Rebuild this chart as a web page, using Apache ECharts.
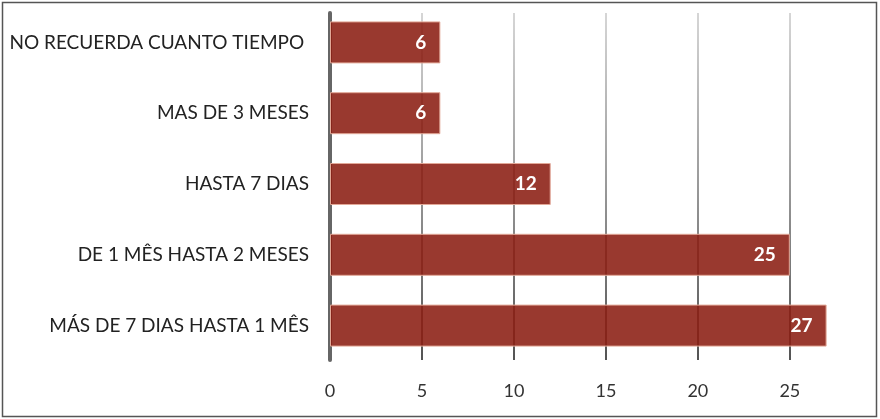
<!DOCTYPE html>
<html>
<head>
<meta charset="utf-8">
<script src="https://cdn.jsdelivr.net/npm/echarts@6/dist/echarts.min.js"></script>
<style>
  html, body { margin: 0; padding: 0; background: #fff; }
  #chart { width: 880px; height: 419px; }
</style>
</head>
<body>
<div id="chart"></div>
<script>
// Categories listed bottom-to-top (category axis starts at the bottom)
const categories = [
  'MÁS DE 7 DIAS HASTA 1 MÊS',
  'DE 1 MÊS HASTA 2 MESES',
  'HASTA 7 DIAS',
  'MAS DE 3 MESES',
  'NO RECUERDA CUANTO TIEMPO '
];
const values = [27, 25, 12, 6, 6];
const axisMin = 0;
const axisMax = 28;
const axisStep = 5;

const FONT = 'Lato, "Open Sans", "Liberation Sans", sans-serif';

const chart = echarts.init(document.getElementById('chart'), null, { renderer: 'canvas' });

// vertical gradient for the grid lines: light at top, dark at bottom
const gridLineColor = {
  type: 'linear', global: true,
  x: 0, y: 13, x2: 0, y2: 360,
  colorStops: [
    { offset: 0, color: '#c8c8c8' },
    { offset: 0.5, color: '#777777' },
    { offset: 1, color: '#1a1a1a' }
  ]
};

chart.setOption({
  animation: false,
  backgroundColor: '#ffffff',
  graphic: [{
    type: 'rect',
    shape: { x: 2.5, y: 2.5, width: 874, height: 414 },
    style: { fill: 'none', stroke: '#555', lineWidth: 1.5 },
    z: 100
  }],
  grid: [
    { left: 330, right: 35, top: 7, bottom: 58 },
    { left: 330, right: 35, top: 13, bottom: 59 }
  ],
  xAxis: [
    {
      gridIndex: 0, type: 'value', min: axisMin, max: axisMax, interval: axisStep,
      axisLine: { show: false }, axisTick: { show: false },
      axisLabel: { show: false }, splitLine: { show: false }
    },
    {
      gridIndex: 1, type: 'value', min: axisMin, max: axisMax, interval: axisStep,
      axisLine: { show: false }, axisTick: { show: false },
      axisLabel: {
        color: '#333', fontFamily: FONT, fontSize: 18, margin: 22,
        showMaxLabel: false
      },
      splitLine: {
        show: true, showMinLine: false, showMaxLine: false,
        lineStyle: { color: gridLineColor, width: 1.5 }
      }
    }
  ],
  yAxis: [
    {
      gridIndex: 0, type: 'category', data: categories,
      axisLine: { show: false }, axisTick: { show: false },
      axisLabel: { color: '#222', fontFamily: FONT, fontSize: 19, margin: 21 }
    },
    {
      gridIndex: 1, type: 'category', data: categories,
      axisLine: { show: true, lineStyle: { color: '#666', width: 4 } },
      axisTick: { show: false }, axisLabel: { show: false },
      splitLine: { show: false }
    }
  ],
  series: [{
    type: 'bar',
    xAxisIndex: 0, yAxisIndex: 0,
    data: values,
    barWidth: 42,
    itemStyle: {
      color: 'rgba(139,30,18,0.88)',
      borderColor: '#e2a898',
      borderWidth: 1
    },
    label: {
      show: true, position: 'insideRight', distance: 14,
      color: '#fff', fontWeight: 'bold', fontFamily: FONT, fontSize: 19
    },
    z: 3
  }]
});
</script>
</body>
</html>
